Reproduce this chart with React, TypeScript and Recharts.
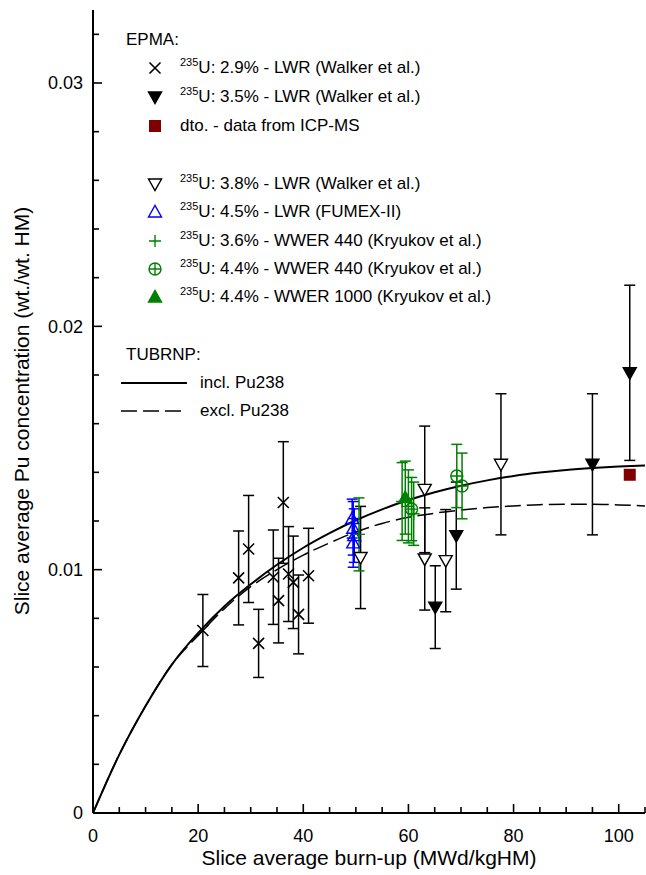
import React from "react";
import { ComposedChart, Line, Scatter, ErrorBar, XAxis, YAxis } from "recharts";

const FONT = '"Liberation Sans", Arial, sans-serif';
const GREEN = "#008000";
const BLUE = "#0000ff";
const DARKRED = "#800000";

// plot frame edges (px)
const LEFT = 93;
const RIGHT = 645;
const TOP = 10;
const BOTTOM = 813;

// axis ticks (minor + major)
const xTicks = [0, 5, 10, 15, 20, 25, 30, 35, 40, 45, 50, 55, 60, 65, 70, 75, 80, 85, 90, 95, 100, 105];
const yTicks = [0, 0.002, 0.004, 0.006, 0.008, 0.01, 0.012, 0.014, 0.016, 0.018, 0.02, 0.022, 0.024, 0.026, 0.028, 0.03, 0.032];
const xLabels = [0, 20, 40, 60, 80, 100];
const yLabels = [0, 0.01, 0.02, 0.03];

// TUBRNP model curves
const curveX = [0, 5, 10, 15, 20, 25, 30, 35, 40, 45, 50, 55, 60, 65, 70, 75, 80, 85, 90, 95, 100, 105];
const inclPu238 = [0, 0.0024, 0.0044, 0.0061, 0.0074, 0.0085, 0.0094, 0.0102, 0.0109, 0.0115, 0.01203, 0.01248, 0.01286, 0.01318, 0.01345, 0.01367, 0.01385, 0.01399, 0.0141, 0.01418, 0.01424, 0.01428];
const exclPu238 = [0, 0.0024, 0.0044, 0.0061, 0.0073, 0.0084, 0.0093, 0.01, 0.0106, 0.0111, 0.01155, 0.0119, 0.01215, 0.01232, 0.01245, 0.01255, 0.01262, 0.01267, 0.01269, 0.01269, 0.01266, 0.01262];

// EPMA: 235U 2.9% - LWR (Walker)
const w29X = [20.9, 27.7, 29.6, 31.5, 34.3, 35.3, 36.2, 37.2, 38.1, 39.1, 41.0];
const w29Y = [0.0075, 0.00966, 0.01085, 0.00697, 0.00969, 0.00873, 0.01276, 0.00982, 0.00948, 0.00816, 0.00975];
const w29Err = [0.00148, 0.00193, 0.0022, 0.0014, 0.00194, 0.00174, 0.0025, 0.00195, 0.0019, 0.00162, 0.00195];

// 235U 3.5% - LWR (Walker)
const w35X = [65.1, 69.1, 95.0, 102.1];
const w35Y = [0.00846, 0.0114, 0.01433, 0.01809];
const w35Err = [0.0017, 0.0022, 0.0029, 0.0036];

// dto. - ICP-MS
const icpX = [102.1];
const icpY = [0.0139];

// 235U 3.8% - LWR (Walker)
const w38X = [50.9, 63.1, 63.1, 67.1, 77.6];
const w38Y = [0.0105, 0.0133, 0.01044, 0.01037, 0.01433];
const w38Err = [0.0021, 0.0026, 0.0021, 0.0021, 0.0029];

// 235U 4.5% - LWR (FUMEX-II)
const fumX = [49.3, 49.5, 49.7, 49.5];
const fumY = [0.0121, 0.0117, 0.0114, 0.0111];
const fumErr = [0.0008, 0.0011, 0.0011, 0.001];

// 235U 3.6% - WWER 440
const k36X = [50.6, 58.8, 60.0, 61.0];
const k36Y = [0.01145, 0.0128, 0.0126, 0.0123];
const k36Err = [0.0015, 0.0016, 0.0015, 0.0013];

// 235U 4.4% - WWER 440
const k44X = [60.6, 69.2, 70.2];
const k44Y = [0.01249, 0.01385, 0.01344];
const k44Err = [0.0013, 0.0013, 0.00135];

// 235U 4.4% - WWER 1000
const k1000X = [59.4];
const k1000Y = [0.01296];
const k1000Err = [0.0015];

const pts = (xs: number[], ys: number[], es?: number[]) =>
  xs.map((x, i) => ({ x, y: ys[i], err: es ? es[i] : 0 }));

const inclData = pts(curveX, inclPu238);
const exclData = pts(curveX, exclPu238);

// marker shapes
const Cross = ({ cx, cy }: any) => (
  <path d={`M${cx - 5.5},${cy - 5.5}L${cx + 5.5},${cy + 5.5}M${cx - 5.5},${cy + 5.5}L${cx + 5.5},${cy - 5.5}`} stroke="#000" strokeWidth={1.6} fill="none" />
);
const TriDown = ({ cx, cy, fill, stroke }: any) => (
  <path d={`M${cx - 6.5},${cy - 5}L${cx + 6.5},${cy - 5}L${cx},${cy + 6.5}Z`} fill={fill} stroke={stroke} strokeWidth={1.4} />
);
const TriUp = ({ cx, cy, fill, stroke }: any) => (
  <path d={`M${cx - 6.5},${cy + 5}L${cx + 6.5},${cy + 5}L${cx},${cy - 6.5}Z`} fill={fill} stroke={stroke} strokeWidth={1.4} />
);
const Square = ({ cx, cy }: any) => <rect x={cx - 6} y={cy - 6} width={12} height={12} fill={DARKRED} />;
const Plus = ({ cx, cy }: any) => (
  <path d={`M${cx - 6},${cy}L${cx + 6},${cy}M${cx},${cy - 6}L${cx},${cy + 6}`} stroke={GREEN} strokeWidth={1.4} fill="none" />
);
const CirclePlus = ({ cx, cy }: any) => (
  <g stroke={GREEN} strokeWidth={1.4} fill="none">
    <circle cx={cx} cy={cy} r={6} />
    <path d={`M${cx - 6},${cy}L${cx + 6},${cy}M${cx},${cy - 6}L${cx},${cy + 6}`} />
  </g>
);

const shapes = {
  cross: (p: any) => <Cross {...p} />,
  triDownFilled: (p: any) => <TriDown cx={p.cx} cy={p.cy} fill="#000" stroke="#000" />,
  triDownOpen: (p: any) => <TriDown cx={p.cx} cy={p.cy} fill="#fff" stroke="#000" />,
  square: (p: any) => <Square {...p} />,
  triUpBlue: (p: any) => <TriUp cx={p.cx} cy={p.cy} fill="none" stroke={BLUE} />,
  plus: (p: any) => <Plus {...p} />,
  circlePlus: (p: any) => <CirclePlus {...p} />,
  triUpGreen: (p: any) => <TriUp cx={p.cx} cy={p.cy} fill={GREEN} stroke={GREEN} />,
};

const isMajorX = (v: number) => xLabels.includes(v);
const isMajorY = (v: number) => yLabels.some((l) => Math.abs(l - v) < 1e-9);

// ticks point into the plot; labels sit outside
const BottomTick = ({ x, payload }: any) => {
  const v = payload.value;
  const len = isMajorX(v) ? 9 : 6;
  return (
    <g>
      <line x1={x} y1={BOTTOM} x2={x} y2={BOTTOM - len} stroke="#000" strokeWidth={1.6} />
      {isMajorX(v) && (
        <text x={x} y={BOTTOM + 29} textAnchor="middle" fontSize={18} fontFamily={FONT} fill="#000">
          {v}
        </text>
      )}
    </g>
  );
};
const TopTick = ({ x, payload }: any) => {
  const len = isMajorX(payload.value) ? 9 : 6;
  return <line x1={x} y1={TOP} x2={x} y2={TOP + len} stroke="#000" strokeWidth={1.6} />;
};
const LeftTick = ({ y, payload }: any) => {
  const v = payload.value;
  const len = isMajorY(v) ? 9 : 6;
  return (
    <g>
      <line x1={LEFT} y1={y} x2={LEFT + len} y2={y} stroke="#000" strokeWidth={1.6} />
      {isMajorY(v) && (
        <text x={LEFT - 10} y={y} dy="0.35em" textAnchor="end" fontSize={18} fontFamily={FONT} fill="#000">
          {String(v)}
        </text>
      )}
    </g>
  );
};
const RightTick = ({ y, payload }: any) => {
  const len = isMajorY(payload.value) ? 9 : 6;
  return <line x1={RIGHT} y1={y} x2={RIGHT - len} y2={y} stroke="#000" strokeWidth={1.6} />;
};

const axisLine = { stroke: "#000", strokeWidth: 2 };

const Sup = () => (
  <span style={{ fontSize: 11, position: "relative", top: -7 }}>235</span>
);

const LegendRow = ({ y, shape, children }: any) => (
  <div style={{ position: "absolute", left: 145, top: y - 12, height: 24, display: "flex", alignItems: "center", whiteSpace: "nowrap" }}>
    <svg width={20} height={24} style={{ display: "block" }}>
      {shape({ cx: 10, cy: 12 })}
    </svg>
    <span style={{ marginLeft: 15, fontSize: 17 }}>{children}</span>
  </div>
);

const Heading = ({ y, children }: any) => (
  <div style={{ position: "absolute", left: 126, top: y - 10, fontSize: 17, lineHeight: "20px", whiteSpace: "nowrap" }}>{children}</div>
);

const ChartLegend = () => (
  <div style={{ position: "absolute", left: 0, top: 0, fontFamily: FONT, color: "#000", pointerEvents: "none" }}>
    <Heading y={40}>EPMA:</Heading>
    <LegendRow y={68} shape={shapes.cross}><Sup />U: 2.9% - LWR (Walker et al.)</LegendRow>
    <LegendRow y={97} shape={shapes.triDownFilled}><Sup />U: 3.5% - LWR (Walker et al.)</LegendRow>
    <LegendRow y={126} shape={shapes.square}>dto. - data from ICP-MS</LegendRow>
    <LegendRow y={184} shape={shapes.triDownOpen}><Sup />U: 3.8% - LWR (Walker et al.)</LegendRow>
    <LegendRow y={212} shape={shapes.triUpBlue}><Sup />U: 4.5% - LWR (FUMEX-II)</LegendRow>
    <LegendRow y={241} shape={shapes.plus}><Sup />U: 3.6% - WWER 440 (Kryukov et al.)</LegendRow>
    <LegendRow y={269} shape={shapes.circlePlus}><Sup />U: 4.4% - WWER 440 (Kryukov et al.)</LegendRow>
    <LegendRow y={297} shape={shapes.triUpGreen}><Sup />U: 4.4% - WWER 1000 (Kryukov et al.)</LegendRow>
    <Heading y={355}>TUBRNP:</Heading>
    <svg style={{ position: "absolute", left: 0, top: 0 }} width={200} height={430}>
      <line x1={121} y1={383} x2={187} y2={383} stroke="#000" strokeWidth={2} />
      <line x1={121} y1={411} x2={187} y2={411} stroke="#000" strokeWidth={1.5} strokeDasharray="16 6" />
    </svg>
    <div style={{ position: "absolute", left: 200, top: 373, fontSize: 17, lineHeight: "20px", whiteSpace: "nowrap" }}>incl. Pu238</div>
    <div style={{ position: "absolute", left: 200, top: 401, fontSize: 17, lineHeight: "20px", whiteSpace: "nowrap" }}>excl. Pu238</div>
  </div>
);

const series = [
  { name: "w29", data: pts(w29X, w29Y, w29Err), shape: shapes.cross, color: "#000" },
  { name: "w38", data: pts(w38X, w38Y, w38Err), shape: shapes.triDownOpen, color: "#000" },
  { name: "w35", data: pts(w35X, w35Y, w35Err), shape: shapes.triDownFilled, color: "#000" },
  { name: "fum", data: pts(fumX, fumY, fumErr), shape: shapes.triUpBlue, color: BLUE },
  { name: "k36", data: pts(k36X, k36Y, k36Err), shape: shapes.plus, color: GREEN },
  { name: "k44", data: pts(k44X, k44Y, k44Err), shape: shapes.circlePlus, color: GREEN },
  { name: "k1000", data: pts(k1000X, k1000Y, k1000Err), shape: shapes.triUpGreen, color: GREEN },
];

export default function App() {
  return (
    <div style={{ position: "absolute", left: 0, top: 0, width: 646, height: 875, background: "#fff" }}>
      <ComposedChart width={646} height={875} margin={{ top: TOP, right: 646 - RIGHT, left: 0, bottom: 0 }}>
        <XAxis
          xAxisId={0}
          dataKey="x"
          type="number"
          domain={[0, 105]}
          ticks={xTicks}
          interval={0}
          allowDataOverflow
          height={875 - BOTTOM}
          tickLine={false}
          axisLine={axisLine}
          tick={(p: any) => <BottomTick {...p} />}
          label={() => (
            <text x={369} y={865} textAnchor="middle" fontSize={21} fontFamily={FONT} fill="#000">
              Slice average burn-up (MWd/kgHM)
            </text>
          )}
        />
        <XAxis
          xAxisId="top"
          orientation="top"
          dataKey="x"
          type="number"
          domain={[0, 105]}
          ticks={xTicks}
          interval={0}
          allowDataOverflow
          height={0}
          tickLine={false}
          axisLine={axisLine}
          tick={(p: any) => <TopTick {...p} />}
        />
        <YAxis
          yAxisId={0}
          type="number"
          domain={[0, 0.033]}
          ticks={yTicks}
          interval={0}
          allowDataOverflow
          width={LEFT}
          tickLine={false}
          axisLine={axisLine}
          tick={(p: any) => <LeftTick {...p} />}
          label={() => (
            <text x={22} y={411} transform="rotate(-90 22 411)" dy="0.35em" textAnchor="middle" fontSize={21} fontFamily={FONT} fill="#000">
              Slice average Pu concentration (wt./wt. HM)
            </text>
          )}
        />
        <YAxis
          yAxisId="right"
          orientation="right"
          type="number"
          domain={[0, 0.033]}
          ticks={yTicks}
          interval={0}
          allowDataOverflow
          width={0}
          tickLine={false}
          axisLine={axisLine}
          tick={(p: any) => <RightTick {...p} />}
        />
        <Line data={inclData} dataKey="y" type="monotone" stroke="#000" strokeWidth={2} dot={false} isAnimationActive={false} />
        <Line data={exclData} dataKey="y" type="monotone" stroke="#000" strokeWidth={1.5} strokeDasharray="16 6" dot={false} isAnimationActive={false} />
        {series.map((s) => (
          <Scatter key={s.name} data={s.data} dataKey="y" shape={s.shape} isAnimationActive={false}>
            <ErrorBar dataKey="err" direction="y" width={5.5} stroke={s.color} strokeWidth={1.5} />
          </Scatter>
        ))}
        <Scatter data={pts(icpX, icpY)} dataKey="y" shape={shapes.square} isAnimationActive={false} />
      </ComposedChart>
      <ChartLegend />
    </div>
  );
}
